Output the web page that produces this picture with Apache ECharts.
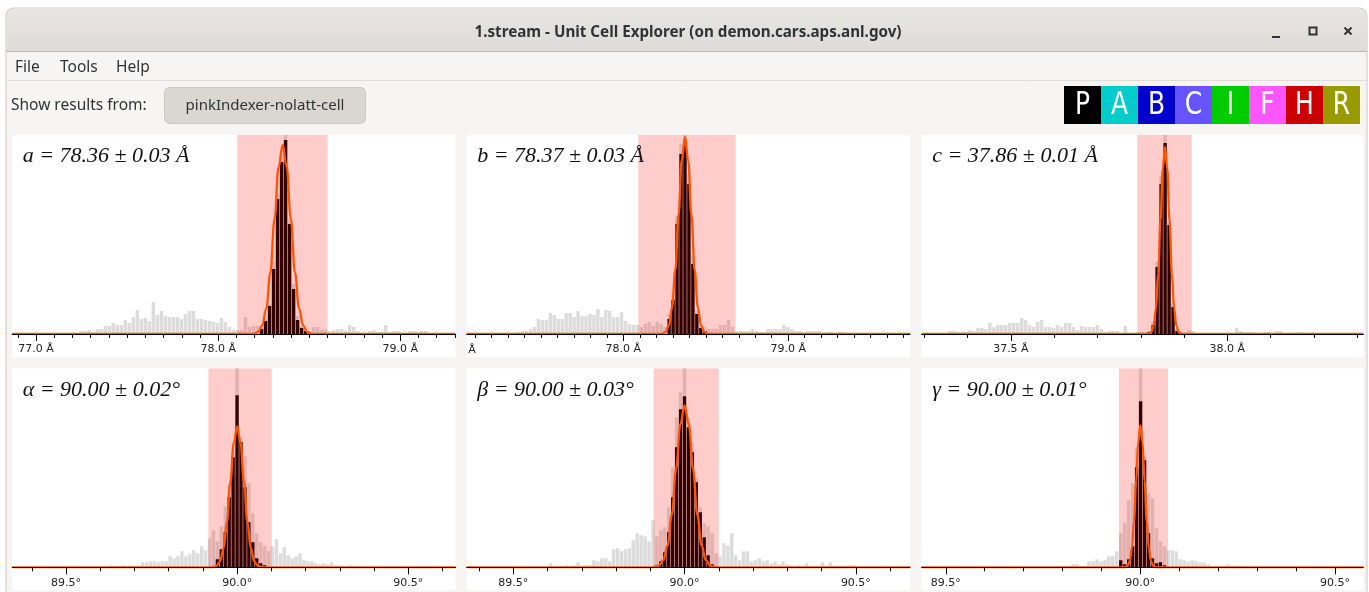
<!DOCTYPE html>
<html><head><meta charset="utf-8">
<script src="https://cdn.jsdelivr.net/npm/echarts@6.0.0/dist/echarts.min.js"></script>
<style>html,body{margin:0;padding:0;background:#fff;overflow:hidden}#c{width:1369px;height:592px}</style>
</head><body><div id="c"></div>
<script>
// ---------------- DATA ----------------
const windowTitle = '1.stream - Unit Cell Explorer (on demon.cars.aps.anl.gov)';
const menuItems = ['File', 'Tools', 'Help'];
const resultsLabel = 'Show results from:';
const resultsSource = 'pinkIndexer-nolatt-cell';
const centerings = ['P', 'A', 'B', 'C', 'I', 'F', 'H', 'R'];

const panelLabels = ['a = 78.36 ± 0.03 Å', 'b = 78.37 ± 0.03 Å', 'c = 37.86 ± 0.01 Å',
                     'α = 90.00 ± 0.02°', 'β = 90.00 ± 0.03°', 'γ = 90.00 ± 0.01°'];
const axisMin = [76.869, 77.051, 37.294, 89.3428, 89.364, 89.438];
const axisMax = [79.303, 79.738, 38.314, 90.6379, 90.658, 90.573];
const majorTicks = [[77.0, 78.0, 79.0], [78.0, 79.0], [37.5, 38.0],
                    [89.5, 90.0, 90.5], [89.5, 90.0, 90.5], [89.5, 90.0, 90.5]];
const tickUnits = [' Å', ' Å', ' Å', '°', '°', '°'];
const minorStep = [0.1, 0.1, 0.1, 0.1, 0.1, 0.1];

// histogram bins: first bin edge and bin width, per panel
const binStart = [77.193, 77.33, 37.3548, 89.626, 89.603, 89.7915];
const binWidth = [0.022, 0.024, 0.0092, 0.0115, 0.0115, 0.0102];

// all indexing results (grey histogram)
const countsA = [1,1,3,3,4,2,5,5,8,8, 11,9,9,14,11,17,24,15,16,13, 32,19,23,18,17,17,17,15,20,23,
  23,15,15,14,13,12,11,16,12,7, 4,4,4,17,7,8,8,6,14,30, 72,140,180,205,115,50,18,8,4,2,
  7,7,4,4,3,4,5,5,3,9, 7,3,1,1,3,4,2,2,9,2, 3,3,1,1,3,3,2,3,3,1, 1];
const countsB = [0,2,3,3,5,7,15,14,14,21, 19,15,15,21,21,17,23,18,18,20, 19,25,17,24,23,17,17,22,13,10,
  9,9,7,10,12,8,12,10,7,20, 40,118,190,215,160,78,24,9,7,5, 5,5,9,9,14,7,3,3,3,3,
  5,3,2,2,5,5,5,5,9,7, 5,3,3,2,3,3,3,3,1,2, 2,1,2,2];
const countsC = [3,3,2,2,2,4,3,6,6,5, 11,7,9,9,9,11,11,11,16,14, 9,7,12,14,7,7,6,9,7,11,
  11,7,4,8,7,7,7,9,5,2, 3,3,3,1,8,1,1,2,2,2, 3,12,72,158,205,115,32,5,2,1,
  4,3,1,0,1,1,1,1,1,0, 0,1,6,3,2,2,2,1,1,2, 2,1,3,3,1,1,1,2,2,1, 1,2,1,1,1,1,1,1,1,1];
const countsAlpha = [2,1,1,2,1,2,1,2,5,5, 6,6,5,6,6,11,9,11,16,11, 13,17,14,21,17,29,37,26,41,61,
  81,115,230,130,111,84,54,34,25,21, 16,21,28,14,20,12,9,11,14,7, 6,6,4,3,4,3,5,2,2,1, 1,2,1];
const countsBeta = [4,0,1,1,2,1,2,5,2,2, 2,7,6,9,9,6,18,19,16,18, 19,27,34,32,31,26,47,31,37,40,
  60,100,150,175,210,150,125,90,60,44, 41,34,14,11,24,22,34,12,7,16, 16,6,7,9,6,7,4,6,3,6,
  3,2,1,2,1,4,1,1,1,5, 1,5,1,1,1,1,2,2];
const countsGamma = [1,1,1,3,3,1,1,6,6,8, 6,7,11,11,16,34,44,67,84,120, 230,111,74,69,39,26,21,17,17,16,
  8,7,6,7,6,5,5,3,1,1, 1,1,3,1,1,1,1];

// results matching the selected cell (dark histogram): first bin index + counts
const selStart = [47, 39, 50, 27, 27, 15];
const selA = [5,13,28,65,135,172,194,110,45,14,6,3];
const selB = [15,34,110,180,189,150,70,20,6,3];
const selC = [2,9,67,150,191,109,27,3,1];
const selAlpha = [8,18,35,70,110,172,125,80,45,25,9,4,2];
const selBeta = [2,6,15,35,70,120,158,171,140,115,85,55,30,12,3,1];
const selGamma = [7,3,8,21,100,166,107,34,9,4,5,2];

// selected parameter ranges (pink)
const cellRange = [[78.105, 78.601], [78.091, 78.681], [37.792, 37.918],
                   [89.916, 90.101], [89.9095, 90.100], [89.945, 90.071]];

// fitted curves
const fitA = [[76.869,0],[78.174,0],[78.1965,0.4],[78.219,2.1],[78.2415,8.3],[78.264,25.6],[78.2865,61.4],[78.309,114.6],[78.3315,166.8],[78.354,189],[78.3765,166.8],[78.399,114.6],[78.4215,61.4],[78.444,25.6],[78.4665,8.3],[78.489,2.1],[78.5115,0.4],[78.534,0],[79.303,0]];
const fitB = [[77.051,0],[78.218,0],[78.2375,0.4],[78.257,2.2],[78.2765,8.6],[78.296,26.7],[78.3155,64],[78.335,119.5],[78.3545,173.9],[78.374,197],[78.3935,173.9],[78.413,119.5],[78.4325,64],[78.452,26.7],[78.4715,8.6],[78.491,2.2],[78.5105,0.4],[78.53,0],[79.738,0]];
const fitC = [[37.294,0],[37.814,0],[37.81925,0.4],[37.8245,2.1],[37.82975,8.2],[37.835,25.3],[37.84025,60.7],[37.8455,113.4],[37.85075,165],[37.856,187],[37.86125,165],[37.8665,113.4],[37.87175,60.7],[37.877,25.3],[37.88225,8.2],[37.8875,2.1],[37.89275,0.4],[37.898,0],[38.314,0]];
const fitAlpha = [[89.3428,0],[89.9204,0],[89.93035,0.3],[89.9403,1.6],[89.95025,6.2],[89.9602,19.1],[89.97015,45.8],[89.9801,85.5],[89.99005,124.4],[90.0,141],[90.00995,124.4],[90.0199,85.5],[90.02985,45.8],[90.0398,19.1],[90.04975,6.2],[90.0597,1.6],[90.06965,0.3],[90.0796,0],[90.6379,0]];
const fitBeta = [[89.364,0],[89.9008,0],[89.9132,0.4],[89.9256,1.8],[89.938,7.1],[89.9504,21.9],[89.9628,52.6],[89.9752,98.3],[89.9876,143],[90.0,162],[90.0124,143],[90.0248,98.3],[90.0372,52.6],[90.0496,21.9],[90.062,7.1],[90.0744,1.8],[90.0868,0.4],[90.0992,0],[90.658,0]];
const fitGamma = [[89.438,0],[89.9564,0],[89.96185,0.3],[89.9673,1.6],[89.97275,6.2],[89.9782,19.2],[89.98365,46.1],[89.9891,86.1],[89.99455,125.3],[90.0,142],[90.00545,125.3],[90.0109,86.1],[90.01635,46.1],[90.0218,19.2],[90.02725,6.2],[90.0327,1.6],[90.03815,0.3],[90.0436,0],[90.573,0]];

const allCounts = [countsA, countsB, countsC, countsAlpha, countsBeta, countsGamma];
const selCounts = [selA, selB, selC, selAlpha, selBeta, selGamma];
const fits = [fitA, fitB, fitC, fitAlpha, fitBeta, fitGamma];

// ---------------- LAYOUT / STYLE ----------------
const cols = [{l: 12.2, r: 455.5}, {l: 466.7, r: 910}, {l: 921.7, r: 1363.3}];
const rows = [{t: 135, a: 334, b: 357}, {t: 368.3, a: 567.3, b: 590}];
const Y_MAX = 199;
const centeringColors = ['#000000', '#00cccc', '#0000cc', '#6655ff', '#00cc00', '#ff55ff', '#cc0000', '#999900'];
const UI_FONT = '"Noto Sans", "Open Sans", sans-serif';
const INK = '#2e3436';

function barRenderer(fill, inset) {
  return function (params, api) {
    const a = api.coord([api.value(0), 0]);
    const b = api.coord([api.value(1), api.value(2)]);
    return {type: 'rect',
      shape: {x: a[0] + inset, y: b[1], width: Math.max(0, b[0] - a[0] - 2 * inset), height: a[1] - b[1]},
      style: {fill: fill}};
  };
}
function rangeRenderer(params, api) {
  const cs = params.coordSys;
  const x0 = api.coord([api.value(0), 0])[0];
  const x1 = api.coord([api.value(1), 0])[0];
  return {type: 'rect', shape: {x: x0, y: cs.y, width: x1 - x0, height: cs.height},
    style: {fill: 'rgba(255,0,0,0.2)'}};
}

const grids = [], xAxes = [], yAxes = [], series = [];
const graphics = [];

// window chrome
graphics.push({type: 'rect', z: 0, shape: {x: 0, y: 0, width: 1369, height: 592}, style: {fill: '#ffffff'}});
graphics.push({type: 'rect', z: 0, shape: {x: 6, y: 8, width: 1361, height: 600, r: [8, 8, 0, 0]},
  style: {fill: '#f6f5f4', stroke: '#c9c5c0', lineWidth: 1}});
graphics.push({type: 'rect', z: 0, shape: {x: 6.5, y: 8.5, width: 1360, height: 42.5, r: [8, 8, 0, 0]},
  style: {fill: new echarts.graphic.LinearGradient(0, 0, 0, 1, [{offset: 0, color: '#e8e6e3'}, {offset: 1, color: '#dedbd8'}])}});
graphics.push({type: 'line', z: 0, shape: {x1: 6, y1: 51.5, x2: 1367, y2: 51.5}, style: {stroke: '#bfb8b1', lineWidth: 1}});
graphics.push({type: 'text', z: 5, x: 688, y: 32.5, style: {text: windowTitle, fill: INK, font: 'bold 15.2px ' + UI_FONT, textAlign: 'center', textVerticalAlign: 'middle'}});
graphics.push({type: 'rect', z: 5, shape: {x: 1272, y: 36, width: 8, height: 2}, style: {fill: INK}});
graphics.push({type: 'rect', z: 5, shape: {x: 1309.5, y: 27.5, width: 7, height: 7}, style: {fill: 'none', stroke: INK, lineWidth: 2}});
graphics.push({type: 'line', z: 5, shape: {x1: 1344.5, y1: 27.5, x2: 1351.5, y2: 34.5}, style: {stroke: INK, lineWidth: 2}});
graphics.push({type: 'line', z: 5, shape: {x1: 1351.5, y1: 27.5, x2: 1344.5, y2: 34.5}, style: {stroke: INK, lineWidth: 2}});
const menuX = [15, 60, 116];
menuItems.forEach((m, i) => graphics.push({type: 'text', z: 5, x: menuX[i], y: 67.5,
  style: {text: m, fill: INK, font: '15.5px ' + UI_FONT, textVerticalAlign: 'middle'}}));
graphics.push({type: 'line', z: 0, shape: {x1: 6, y1: 80.5, x2: 1367, y2: 80.5}, style: {stroke: '#e0ddd9', lineWidth: 1}});
graphics.push({type: 'text', z: 5, x: 11, y: 105.5, style: {text: resultsLabel, fill: INK, font: '15.5px ' + UI_FONT, textVerticalAlign: 'middle'}});
graphics.push({type: 'rect', z: 1, shape: {x: 164.5, y: 87.5, width: 201, height: 36, r: 5},
  style: {fill: '#dad6d2', stroke: '#cdc7c2', lineWidth: 1}});
graphics.push({type: 'text', z: 5, x: 265, y: 106, style: {text: resultsSource, fill: INK, font: '15px ' + UI_FONT, textAlign: 'center', textVerticalAlign: 'middle'}});
centerings.forEach((c, i) => {
  graphics.push({type: 'rect', z: 1, shape: {x: 1064 + 37 * i, y: 86, width: 37, height: 38}, style: {fill: centeringColors[i]}});
  graphics.push({type: 'text', z: 5, x: 1064 + 37 * i + 18.5, y: 105.5, scaleX: 0.78, originX: 0, originY: 0,
    style: {text: c, fill: '#ffffff', font: '32px "DejaVu Sans"', textAlign: 'center', textVerticalAlign: 'middle'}});
});

for (let p = 0; p < 6; p++) {
  const col = cols[p % 3], row = rows[Math.floor(p / 3)];
  // panel background
  graphics.push({type: 'rect', z: 0, shape: {x: col.l, y: row.t, width: col.r - col.l, height: row.b - row.t}, style: {fill: '#ffffff'}});
  graphics.push({type: 'text', z: 30, x: col.l + 10.5, y: row.t + 21.5,
    style: {text: panelLabels[p], fill: '#111111', font: 'italic 22px "Liberation Serif", "DejaVu Serif", serif', textVerticalAlign: 'middle'}});

  grids.push({left: col.l, top: row.t, width: col.r - col.l, height: row.a - row.t, containLabel: false, outerBoundsMode: 'none'});
  const minors = [];
  for (let v = Math.ceil(axisMin[p] / minorStep[p] - 1e-6); v * minorStep[p] <= axisMax[p] + 1e-9; v++) minors.push(Math.round(v * minorStep[p] * 1000) / 1000);
  xAxes.push({type: 'value', gridIndex: p, min: axisMin[p], max: axisMax[p], position: 'bottom', z: 10,
    axisLine: {show: true, onZero: false, lineStyle: {color: '#000', width: 1}},
    axisTick: {show: true, length: 7, customValues: majorTicks[p], lineStyle: {color: '#000', width: 1}},
    axisLabel: {show: true, customValues: majorTicks[p], margin: 10, color: '#222', fontSize: 11, fontFamily: 'DejaVu Sans',
      formatter: (v) => Number(v).toFixed(1) + tickUnits[p]},
    splitLine: {show: false}, minorTick: {show: false}});
  xAxes.push({type: 'value', gridIndex: p, min: axisMin[p], max: axisMax[p], position: 'bottom', offset: 0, z: 10,
    axisLine: {show: false, onZero: false},
    axisTick: {show: true, length: 4, customValues: minors, lineStyle: {color: '#000', width: 1}},
    axisLabel: {show: false}, splitLine: {show: false}});
  yAxes.push({type: 'value', gridIndex: p, min: 0, max: Y_MAX, show: false, splitLine: {show: false}});

  const gs = binStart[p], w = binWidth[p];
  const grayData = allCounts[p].map((c, i) => [gs + i * w, gs + (i + 1) * w, c]);
  const selData = selCounts[p].map((c, j) => [gs + (selStart[p] + j) * w, gs + (selStart[p] + j + 1) * w, c]);
  const common = {xAxisIndex: 2 * p, yAxisIndex: p, silent: true, animation: false};
  series.push(Object.assign({type: 'custom', z: 1, clip: true, encode: {x: [0, 1], y: 2}, data: grayData, renderItem: barRenderer('#dcdcdc', 0.25)}, common));
  series.push(Object.assign({type: 'custom', z: 2, clip: true, encode: {x: [0, 1], y: 2}, data: selData, renderItem: barRenderer('#000000', 0.3)}, common));
  series.push(Object.assign({type: 'custom', z: 3, clip: true, encode: {x: [0, 1]}, data: [cellRange[p]], renderItem: rangeRenderer}, common));
  series.push(Object.assign({type: 'line', z: 4, data: fits[p], smooth: 0.4, smoothMonotone: 'x', showSymbol: false, symbol: 'none',
    lineStyle: {color: '#ff5500', width: 2.3}}, common));
}
// clipped "77.0 Å" tick label at left edge of the b panel: only its unit is visible
graphics.push({type: 'text', z: 30, x: 475.8, y: 350, style: {text: 'Å', fill: '#222', font: '11px "DejaVu Sans"', textAlign: 'right', textVerticalAlign: 'middle'}});

const chart = echarts.init(document.getElementById('c'), null, {renderer: 'canvas', width: 1369, height: 592});
chart.setOption({
  animation: false,
  backgroundColor: '#ffffff',
  grid: grids, xAxis: xAxes, yAxis: yAxes, series: series,
  graphic: {elements: graphics}
});
</script></body></html>
